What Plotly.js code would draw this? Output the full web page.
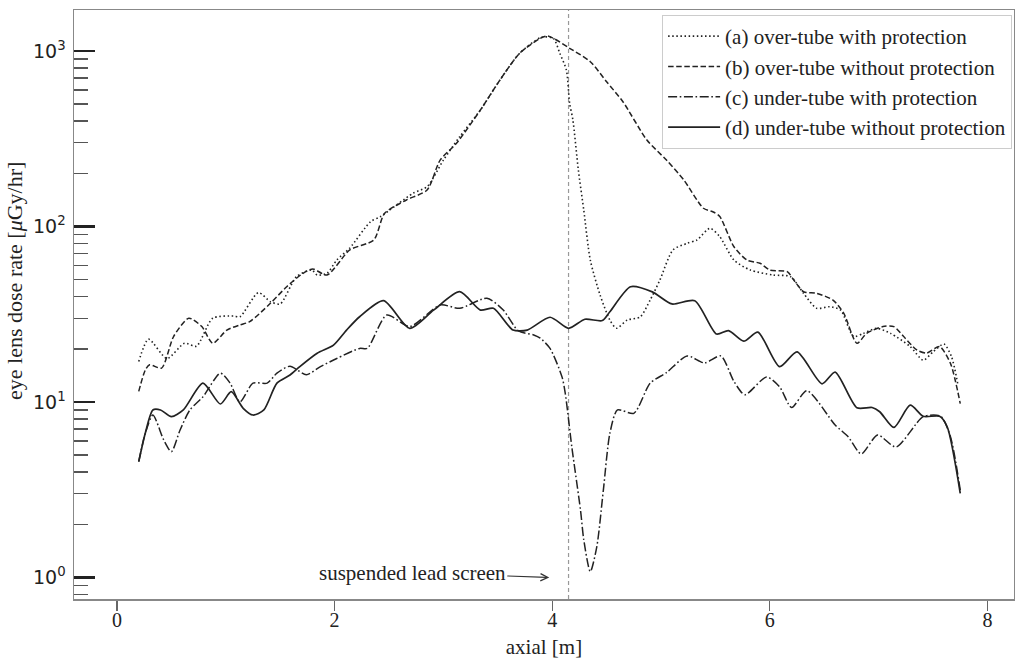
<!DOCTYPE html>
<html>
<head>
<meta charset="utf-8">
<script src="https://cdn.plot.ly/plotly-3.0.1.min.js"></script>
<style>
  html, body { margin: 0; padding: 0; background: #fff; }
  #chart { width: 1015px; height: 659px; }
</style>
</head>
<body>
<div id="chart"></div>
<script>
// ---- data (axial position in m, dose rate in µGy/hr) ----
const seriesNames = [
  "(a) over-tube with protection",
  "(b) over-tube without protection",
  "(c) under-tube with protection",
  "(d) under-tube without protection"
];

const xA = [0.20,0.29,0.46,0.62,0.73,0.88,1.07,1.13,1.30,1.41,1.50,1.65,1.79,1.84,1.93,2.02,2.14,2.33,2.42,2.72,2.85,3.00,3.15,3.34,3.52,3.70,3.90,4.01,4.07,4.13,4.16,4.19,4.24,4.29,4.35,4.44,4.53,4.59,4.69,4.81,4.90,4.99,5.11,5.24,5.33,5.45,5.54,5.67,5.82,6.03,6.19,6.31,6.43,6.55,6.65,6.77,6.86,6.98,7.11,7.29,7.41,7.50,7.60,7.67,7.73];
const yA = [17.0,22.8,17.7,21.6,20.8,30.0,30.9,30.6,42.0,37.3,36.2,51.8,56.5,52.9,54.1,64.4,75.4,106.5,113.7,154.6,168.6,239,325,461,684,970,1197,1181,970,779,503,405,210,124,64.4,40.7,29.3,26.3,29.3,30.6,38.1,49.6,73.5,80.2,83.8,97.7,87.5,64.4,56.5,52.9,51.8,41.6,34.2,34.9,33.4,23.6,24.6,26.3,24.6,20.7,17.3,19.3,21.4,18.1,12.4];

const xB = [0.20,0.26,0.30,0.41,0.52,0.66,0.78,0.88,1.01,1.13,1.22,1.41,1.56,1.71,1.80,1.93,2.14,2.36,2.46,2.66,2.85,2.97,3.12,3.34,3.52,3.70,3.89,3.96,4.16,4.35,4.50,4.65,4.87,5.05,5.21,5.39,5.48,5.54,5.67,5.79,5.91,6.00,6.16,6.22,6.31,6.43,6.58,6.68,6.80,6.89,7.04,7.14,7.23,7.35,7.44,7.56,7.66,7.75];
const yB = [11.5,15.2,16.3,15.6,23.6,30.0,26.9,21.6,25.7,27.5,28.7,36.5,45.4,54.1,57.3,52.9,73.5,83.8,118.9,141.6,161.4,239,298,461,684,970,1181,1218,1036,869,668,514,311,239,184,127,121,114,76.7,64.4,61.7,56.5,55.3,49.6,42.5,41.6,38.1,32.0,21.6,24.6,26.9,26.9,23.6,19.8,19.0,20.7,16.6,9.8];

const xC = [0.20,0.26,0.33,0.43,0.50,0.58,0.67,0.79,0.95,1.04,1.13,1.25,1.38,1.47,1.59,1.74,1.87,2.02,2.23,2.30,2.48,2.69,2.97,3.15,3.40,3.55,3.69,3.83,3.89,3.98,4.09,4.12,4.18,4.26,4.29,4.35,4.41,4.47,4.53,4.60,4.75,4.90,5.05,5.24,5.40,5.55,5.67,5.77,5.97,6.09,6.20,6.34,6.60,6.72,6.84,6.99,7.16,7.41,7.57,7.66,7.75];
const yC = [4.57,6.63,8.43,6.07,5.21,6.93,9.01,10.7,14.6,12.8,10.0,12.8,12.8,14.6,16.0,14.3,15.9,17.7,20.2,20.2,31.3,26.9,35.7,34.2,39.0,33.4,25.4,24.1,23.1,20.2,13.9,11.2,5.56,2.42,1.64,1.08,1.50,3.15,6.63,9.01,8.62,12.8,14.7,18.3,16.7,18.3,13.1,11.0,13.9,12.2,9.30,11.6,7.40,6.34,5.06,6.49,5.54,8.25,8.29,6.34,3.15];

const xD = [0.20,0.26,0.33,0.40,0.50,0.61,0.79,0.95,1.05,1.16,1.25,1.35,1.47,1.59,1.68,1.84,1.99,2.11,2.23,2.45,2.69,2.91,3.15,3.34,3.46,3.64,3.77,3.98,4.15,4.30,4.46,4.53,4.72,4.92,5.10,5.31,5.51,5.62,5.76,5.89,6.09,6.25,6.48,6.60,6.80,6.94,7.01,7.14,7.29,7.41,7.56,7.63,7.75];
const yD = [4.57,6.63,9.01,9.01,8.25,9.01,12.8,9.74,11.45,9.21,8.43,9.01,12.8,14.25,15.9,18.95,21.1,25.7,30.6,37.8,26.3,33.4,42.5,33.4,34.2,25.7,25.7,30.4,26.3,29.6,29.1,32.7,45.4,42.4,36.2,37.8,24.4,25.5,22.2,25.0,15.9,19.3,12.7,14.8,9.27,9.30,8.80,7.16,9.59,8.29,8.29,7.23,3.02];

const xTickVals = [0, 2, 4, 6, 8];
const yTickVals = [1, 10, 100, 1000];
const yTickText = ["10<sup>0</sup>", "10<sup>1</sup>", "10<sup>2</sup>", "10<sup>3</sup>"];
const screenPosition = 4.15;        // suspended lead screen (m)
const screenLabel = "suspended lead screen";
const xTitle = "axial [m]";
const yTitle = "eye lens dose rate [<i>μ</i>Gy/hr]";

// ---- styling ----
const ink = "#222";
const serif = "Liberation Serif, Times New Roman, serif";
const dashes = ["1.5px,2.6px", "5.5px,2.6px", "9px,2.6px,1.6px,2.6px", "solid"];
const widths = [1.6, 1.5, 1.5, 1.7];
const xs = [xA, xB, xC, xD];
const ys = [yA, yB, yC, yD];

const traces = seriesNames.map((name, i) => ({
  type: "scatter",
  mode: "lines",
  name: name,
  legendgroup: "g" + i,
  x: xs[i],
  y: ys[i],
  line: { color: ink, width: widths[i], dash: dashes[i], shape: "spline", smoothing: 0.7 },
  hoverinfo: "x+y+name"
}));

// minor tick positions for the log axis (2..9 in each decade)
const minorVals = [];
[0.1, 1, 10, 100].forEach(d => { for (let k = 2; k <= 9; k++) minorVals.push(d * k); });

const layout = {
  width: 1015,
  height: 659,
  margin: { l: 74, r: 1, t: 10, b: 60 },
  paper_bgcolor: "#fff",
  plot_bgcolor: "#fff",
  showlegend: true,
  xaxis: {
    range: [-0.395, 8.244],
    tickmode: "array",
    tickvals: xTickVals,
    ticks: "outside",
    ticklen: 10,
    tickwidth: 1.2,
    tickcolor: "#666",
    tickfont: { family: serif, size: 20, color: ink },
    ticklabelstandoff: -8,
    showgrid: false,
    zeroline: false,
    showline: true,
    linecolor: "#888",
    linewidth: 1.5,
    mirror: true,
    title: { text: xTitle, font: { family: serif, size: 21, color: ink }, standoff: 10 }
  },
  yaxis: {
    type: "log",
    range: [-0.1225, 3.2336],
    tickmode: "array",
    tickvals: yTickVals,
    ticktext: yTickText,
    ticks: "inside",
    ticklen: 21,
    tickwidth: 2.2,
    tickcolor: "#222",
    tickfont: { family: "DejaVu Sans, sans-serif", size: 19, color: ink },
    ticklabelstandoff: 3,
    minor: { tickmode: "array", tickvals: minorVals, ticks: "inside", ticklen: 14, tickwidth: 1.4, tickcolor: "#555", showgrid: false },
    showgrid: false,
    zeroline: false,
    showline: true,
    linecolor: "#888",
    linewidth: 1.5,
    mirror: true
  },
  legend: {
    x: 0.998, xanchor: "right",
    y: 0.9915, yanchor: "top",
    bgcolor: "rgba(255,255,255,0.9)",
    bordercolor: "#ccc",
    borderwidth: 1,
    font: { family: serif, size: 21, color: ink },
    traceorder: "grouped",
    tracegroupgap: 0,
    itemwidth: 52
  },
  shapes: [{
    type: "line", xref: "x", yref: "paper",
    x0: screenPosition, x1: screenPosition, y0: 0, y1: 1,
    line: { color: "#999", width: 1.2, dash: "4px,3px" },
    layer: "below"
  }],
  annotations: [
    {
      xref: "x", yref: "y",
      x: 3.973, y: 0,
      ax: -137, ay: -5,
      text: screenLabel,
      showarrow: true,
      arrowhead: 5, arrowsize: 1.3, arrowwidth: 1.1, arrowcolor: "#333",
      font: { family: serif, size: 21, color: ink }
    },
    {
      xref: "paper", yref: "paper",
      x: -0.0628, y: 0.540,
      xanchor: "center", yanchor: "middle",
      text: yTitle, textangle: -90, showarrow: false,
      font: { family: serif, size: 22, color: ink }
    }
  ]
};

Plotly.newPlot("chart", traces, layout, { displayModeBar: false, staticPlot: true });
</script>
</body>
</html>
